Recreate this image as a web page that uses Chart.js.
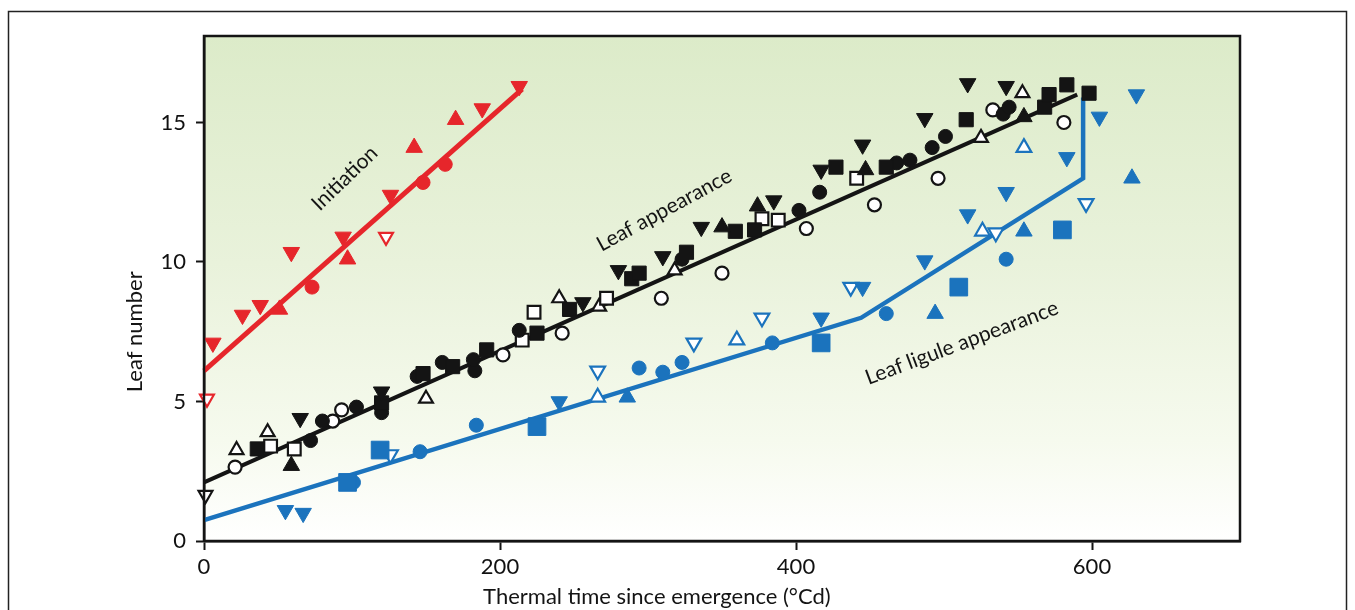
<!DOCTYPE html>
<html><head><meta charset="utf-8">
<script src="https://cdn.jsdelivr.net/npm/chart.js@4/dist/chart.umd.min.js"></script>
<style>html,body{margin:0;padding:0;background:#fff}#wrap{width:1355px;height:610px;position:relative}</style>
</head><body><div id="wrap"><canvas id="c" width="1355" height="610"></canvas></div>
<script>
// ---------- data (thermal time °Cd, leaf number) ----------
const xTicks = [0, 200, 400, 600];
const yTicks = [0, 5, 10, 15];
const xTitle = 'Thermal time since emergence (°Cd)';
const yTitle = 'Leaf number';

// Initiation (red)
const redLine = [[0, 6.1], [215, 16.2]];
const redDown = [[6, 7.1], [26, 8.1], [38, 8.45], [59, 10.35], [94, 10.9], [126, 12.4], [188, 15.5], [213, 16.3]];
const redUp = [[51, 8.3], [97, 10.1], [142, 14.1], [170, 15.1]];
const redDot = [[73, 9.1], [148, 12.85], [163, 13.5]];
const redOpenDown = [[2, 5.1], [123, 10.9]];

// Leaf appearance (black)
const blackLine = [[0, 2.1], [590, 16.0]];
const blackDown = [[65, 4.4], [120, 5.35], [256, 8.55], [280, 9.7], [310, 10.2], [336, 11.25], [385, 12.2], [417, 13.3], [445, 14.2], [487, 15.15], [516, 16.4], [542, 16.3]];
const blackUp = [[59, 2.7], [350, 11.25], [374, 12.0], [447, 13.3], [554, 15.2]];
const blackSquare = [[36, 3.3], [120, 4.95], [148, 6.0], [168, 6.25], [191, 6.85], [225, 7.45], [247, 8.3], [289, 9.4], [294, 9.6], [326, 10.35], [359, 11.1], [372, 11.15], [427, 13.4], [461, 13.4], [515, 15.1], [568, 15.55], [571, 16.0], [583, 16.35], [598, 16.05]];
const blackDot = [[72, 3.6], [80, 4.3], [103, 4.8], [120, 4.6], [144, 5.9], [161, 6.4], [183, 6.1], [182, 6.5], [213, 7.55], [323, 10.1], [402, 11.85], [416, 12.5], [468, 13.55], [477, 13.65], [492, 14.1], [501, 14.5], [540, 15.3], [544, 15.55]];
const blackOpenDot = [[21, 2.65], [87, 4.3], [93, 4.7], [202, 6.67], [242, 7.45], [309, 8.7], [350, 9.6], [407, 11.2], [453, 12.05], [496, 13.0], [533, 15.45], [581, 15.0]];
const blackOpenSquare = [[45, 3.4], [61, 3.3], [215, 7.2], [223, 8.2], [272, 8.7], [377, 11.55], [388, 11.5], [441, 13.0]];
const blackOpenUp = [[22, 3.26], [43, 3.9], [150, 5.1], [240, 8.7], [267, 8.4], [318, 9.7], [525, 14.45], [553, 16.05]];
const blackOpenDown = [[1, 1.65]];

// Leaf ligule appearance (blue)
const blueLine = [[0, 0.75], [444, 8.0], [594, 13.0], [594, 15.9]];
const blueDown = [[55, 1.1], [67, 1.0], [240, 5.0], [417, 8.0], [445, 9.1], [487, 10.05], [516, 11.7], [542, 12.5], [583, 13.75], [605, 15.2], [630, 16.0]];
const blueUp = [[286, 5.15], [494, 8.15], [554, 11.1], [627, 13.0]];
const blueSquare = [[97, 2.1], [119, 3.26], [225, 4.1], [417, 7.1], [510, 9.1], [580, 11.15]];
const blueDot = [[101, 2.1], [146, 3.2], [184, 4.15], [294, 6.2], [310, 6.05], [323, 6.4], [384, 7.1], [461, 8.15], [542, 10.1]];
const blueOpenDown = [[126, 3.1], [266, 6.1], [331, 7.1], [377, 8.0], [437, 9.1], [535, 11.05], [596, 12.1]];
const blueOpenUp = [[266, 5.15], [360, 7.2], [526, 11.1], [554, 14.1]];

// curve labels: [text, x, y, angle°]
const curveLabels = [
  ['Initiation', 95, 13.0, -44],
  ['Leaf appearance', 311, 11.86, -28.5],
  ['Leaf ligule appearance', 512, 7.1, -20.5]
];

// ---------- styling ----------
const RED = '#e6262b', BLACK = '#141414', BLUE = '#1b73bd';
const FONT = 'Lato, "Open Sans", "DejaVu Sans", sans-serif';
const pts = a => a.map(p => ({x: p[0], y: p[1]}));

function markers(arr, color, shape, opts = {}) {
  const open = !!opts.open;
  return {
    type: 'scatter', data: pts(arr), showLine: false, clip: false,
    pointStyle: shape, rotation: opts.rot || 0,
    pointRadius: opts.r || 8, pointHoverRadius: opts.r || 8,
    pointBackgroundColor: open ? '#ffffff' : color,
    pointBorderColor: color, pointBorderWidth: open ? 2.2 : 1,
    order: 1
  };
}
function line(arr, color, w) {
  return {
    type: 'line', data: pts(arr), showLine: true, borderColor: color, borderWidth: w,
    pointRadius: 0, fill: false, tension: 0, clip: false, order: 2
  };
}

const datasets = [
  line(redLine, RED, 5), line(blackLine, BLACK, 4), line(blueLine, BLUE, 4.5),
  markers(redDown, RED, 'triangle', {rot: 180, r: 9.5}),
  markers(redUp, RED, 'triangle', {r: 9.5}),
  markers(redDot, RED, 'circle', {r: 7}),
  markers(redOpenDown, RED, 'triangle', {rot: 180, r: 8, open: true}),
  markers(blackDown, BLACK, 'triangle', {rot: 180, r: 9.5}),
  markers(blackUp, BLACK, 'triangle', {r: 9.5}),
  markers(blackSquare, BLACK, 'rect', {r: 10}),
  markers(blackDot, BLACK, 'circle', {r: 7}),
  markers(blackOpenDot, BLACK, 'circle', {r: 6.5, open: true}),
  markers(blackOpenSquare, BLACK, 'rect', {r: 9, open: true}),
  markers(blackOpenUp, BLACK, 'triangle', {r: 8, open: true}),
  markers(blackOpenDown, BLACK, 'triangle', {rot: 180, r: 8, open: true}),
  markers(blueDown, BLUE, 'triangle', {rot: 180, r: 9.5}),
  markers(blueUp, BLUE, 'triangle', {r: 9.5}),
  markers(blueSquare, BLUE, 'rect', {r: 12.5}),
  markers(blueDot, BLUE, 'circle', {r: 7}),
  markers(blueOpenDown, BLUE, 'triangle', {rot: 180, r: 8.5, open: true}),
  markers(blueOpenUp, BLUE, 'triangle', {r: 8.5, open: true})
];

const decor = {
  id: 'decor',
  beforeDraw(chart) {
    const {ctx, chartArea: a} = chart;
    ctx.save();
    ctx.fillStyle = '#ffffff';
    ctx.fillRect(0, 0, chart.width, chart.height);
    ctx.strokeStyle = '#222';
    ctx.lineWidth = 1.5;
    ctx.strokeRect(8.5, 11.5, 1338, 640);
    const g = ctx.createLinearGradient(0, a.top, 0, a.bottom);
    g.addColorStop(0, '#dcebc9');
    g.addColorStop(0.45, '#e9f2db');
    g.addColorStop(0.8, '#f6faee');
    g.addColorStop(1, '#ffffff');
    ctx.fillStyle = g;
    ctx.fillRect(a.left, a.top, a.right - a.left, a.bottom - a.top);
    ctx.restore();
  },
  afterDraw(chart) {
    const {ctx, chartArea: a, scales} = chart;
    ctx.save();
    ctx.strokeStyle = BLACK;
    ctx.lineWidth = 2.5;
    ctx.beginPath();
    ctx.moveTo(a.left, a.bottom); ctx.lineTo(a.left, a.top); ctx.lineTo(a.right, a.top); ctx.lineTo(a.right, a.bottom); ctx.lineTo(a.left, a.bottom);
    ctx.stroke();
    ctx.fillStyle = '#141414';
    ctx.font = '21px ' + FONT;
    ctx.textAlign = 'center'; ctx.textBaseline = 'middle';
    curveLabels.forEach(([t, x, y, ang]) => {
      ctx.save();
      ctx.translate(scales.x.getPixelForValue(x), scales.y.getPixelForValue(y));
      ctx.rotate(ang * Math.PI / 180);
      ctx.fillText(t, 0, 0);
      ctx.restore();
    });
    ctx.font = '22px ' + FONT;
    ctx.fillText(xTitle, scales.x.getPixelForValue(306), 597);
    ctx.save();
    ctx.translate(135, scales.y.getPixelForValue(7.5));
    ctx.rotate(-Math.PI / 2);
    ctx.fillText(yTitle, 0, 0);
    ctx.restore();
    ctx.restore();
  }
};

new Chart(document.getElementById('c'), {
  data: {datasets},
  options: {
    responsive: false, animation: false, devicePixelRatio: 1,
    layout: {padding: {left: 0, top: 36, right: 115, bottom: 0}},
    plugins: {legend: {display: false}, tooltip: {enabled: false}},
    scales: {
      x: {
        type: 'linear', min: 0, max: 700,
        afterBuildTicks: s => { s.ticks = xTicks.map(v => ({value: v})); },
        afterFit: s => { s.height = 69; },
        ticks: {font: {size: 22, family: FONT}, color: '#111', padding: 4, maxRotation: 0},
        grid: {drawOnChartArea: false, drawTicks: true, tickLength: 9, tickWidth: 2, tickColor: BLACK},
        border: {display: true, color: BLACK, width: 2.5}
      },
      y: {
        type: 'linear', min: 0, max: 18.1,
        afterBuildTicks: s => { s.ticks = yTicks.map(v => ({value: v})); },
        afterFit: s => { s.width = 204; },
        ticks: {font: {size: 22, family: FONT}, color: '#111', padding: 10},
        grid: {drawOnChartArea: false, drawTicks: true, tickLength: 8, tickWidth: 2, tickColor: BLACK},
        border: {display: true, color: BLACK, width: 2.5}
      }
    }
  },
  plugins: [decor]
});
</script></body></html>
